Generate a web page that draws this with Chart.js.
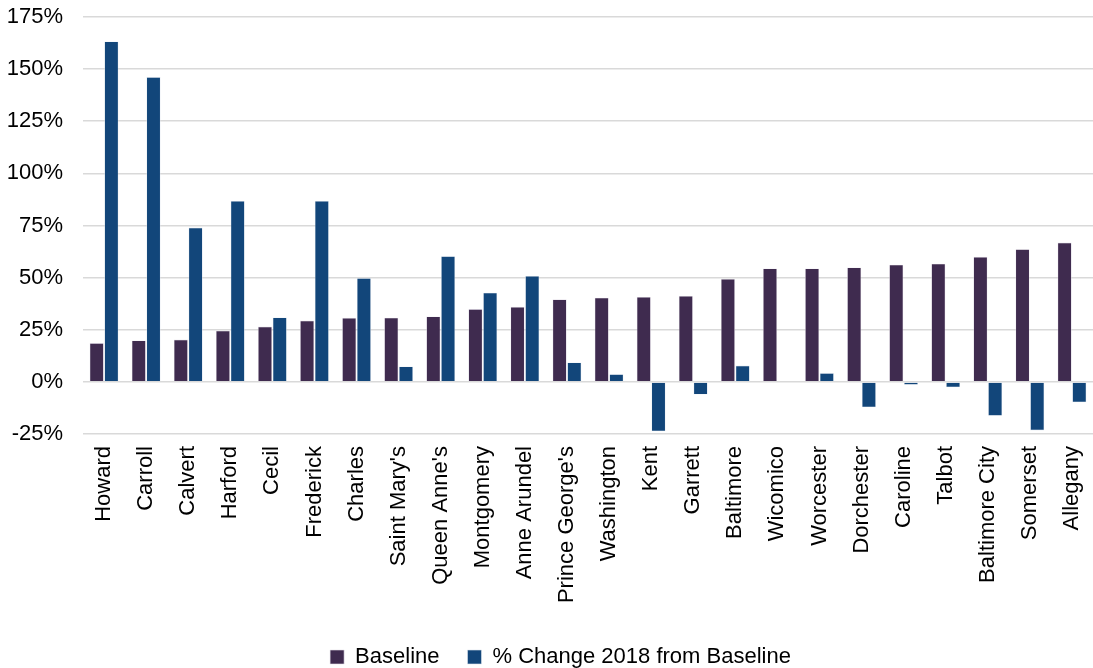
<!DOCTYPE html>
<html>
<head>
<meta charset="utf-8">
<script src="https://cdn.jsdelivr.net/npm/chart.js@4/dist/chart.umd.min.js"></script>
<style>
  html, body { margin:0; padding:0; background:#fff; }
  #wrap { width:1093px; height:668px; }
</style>
</head>
<body>
<div id="wrap"><canvas id="chart" width="1093" height="668"></canvas></div>
<script>
const counties = ['Howard','Carroll','Calvert','Harford','Cecil','Frederick','Charles',"Saint Mary's","Queen Anne's",'Montgomery','Anne Arundel',"Prince George's",'Washington','Kent','Garrett','Baltimore','Wicomico','Worcester','Dorchester','Caroline','Talbot','Baltimore City','Somerset','Allegany'];
const baseline = [18.6,19.9,20.3,24.6,26.5,29.4,30.7,30.8,31.4,34.9,36.0,39.6,40.4,40.7,41.2,49.4,54.4,54.4,54.9,56.2,56.7,60.0,63.6,66.8];
const change2018 = [163.3,146.2,74.0,86.8,30.9,86.8,49.8,7.4,60.3,42.8,50.8,9.3,3.7,-23.7,-6.1,7.8,0,4.2,-12.2,-1.4,-2.6,-16.3,-23.3,-9.8];
const yTicks = { min:-25, max:175, step:25 };

Chart.defaults.font.family = '"Liberation Sans", Arial, sans-serif';
Chart.defaults.color = '#000';

// nudge legend to sit a bit right of canvas centre, like the original
const legendShift = {
  id:'legendShift',
  afterLayout(chart){
    const lg = chart.legend;
    if (lg) { lg.left += 14; lg.right += 14; }
  }
};

new Chart(document.getElementById('chart').getContext('2d'), {
  type: 'bar',
  data: {
    labels: counties,
    datasets: [
      { label:'Baseline', data: baseline, backgroundColor:'#3f2b4f', borderColor:'#e6e1ea', borderWidth:0.6, categoryPercentage:0.7, barPercentage:0.96 },
      { label:'% Change 2018 from Baseline', data: change2018, backgroundColor:'#12467a', borderColor:'#dfe6ee', borderWidth:0.6, categoryPercentage:0.7, barPercentage:0.96 }
    ]
  },
  options: {
    responsive:false,
    animation:false,
    layout:{ padding:{ left:0, right:0, top:17, bottom:-10 } },
    plugins:{
      legend:{
        position:'bottom',
        labels:{ font:{ size:22 }, boxWidth:14, boxHeight:14, padding:28, color:'#000' }
      },
      tooltip:{ enabled:false }
    },
    scales:{
      x:{
        grid:{ display:false },
        border:{ display:false },
        ticks:{ font:{ size:22 }, maxRotation:90, minRotation:90, autoSkip:false, padding:4, color:'#000' },
        afterFit(s){ s.height = 184; s.paddingLeft = 0; s.paddingRight = 0; }
      },
      y:{
        min:yTicks.min, max:yTicks.max,
        grid:{ color:'#d9d9d9', lineWidth:1.6, drawTicks:false },
        border:{ display:false },
        ticks:{ stepSize:yTicks.step, font:{ size:22 }, padding:20, color:'#000', callback:v => v + '%' },
        afterFit(s){ s.width = 83; s.paddingTop = 0; s.paddingBottom = 0; }
      }
    }
  },
  plugins:[legendShift]
});
</script>
</body>
</html>
